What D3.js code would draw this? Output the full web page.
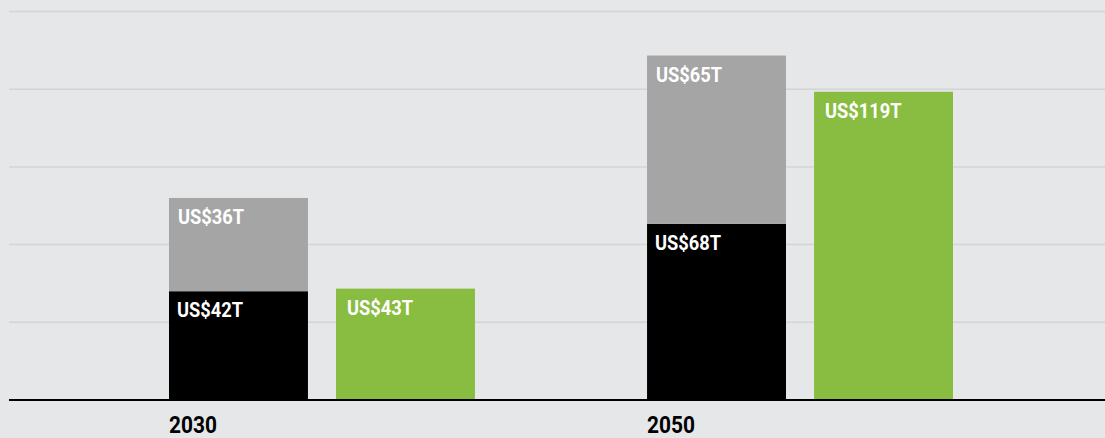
<!DOCTYPE html>
<meta charset="utf-8">
<style>
  body { margin: 0; background: #e6e7e9; }
  svg { display: block; }
  text { font-family: Roboto, sans-serif; font-weight: bold; }
</style>
<script src="https://d3js.org/d3.v7.min.js"></script>
<body>
<script>
// values in US$ trillions
var years = ["2030", "2050"];
var blackValues = [42, 68];
var grayValues = [36, 65];
var greenValues = [43, 119];
var gridTicks = [30, 60, 90, 120, 150];

var width = 1105,
    height = 438;

var svg = d3.select("body").append("svg")
    .attr("width", width)
    .attr("height", height);

svg.append("rect")
    .attr("width", width)
    .attr("height", height)
    .attr("fill", "#e6e7e9");

var y = d3.scaleLinear()
    .domain([0, 150])
    .range([400, 11.5]);

var x = d3.scaleBand()
    .domain(years)
    .range([169, 953])
    .paddingInner(0.36)
    .paddingOuter(0);

var sub = d3.scaleBand()
    .domain(["stack", "green"])
    .range([0, x.bandwidth()])
    .paddingInner(0.168);

// gridlines
svg.append("g")
    .selectAll("line")
    .data(gridTicks)
    .enter().append("line")
    .attr("x1", 9)
    .attr("x2", width)
    .attr("y1", function(d) { return y(d); })
    .attr("y2", function(d) { return y(d); })
    .attr("stroke", "#d3d4d6")
    .attr("stroke-width", 1.5);

var rows = years.map(function(yr, i) {
    return {year: yr, black: blackValues[i], gray: grayValues[i], green: greenValues[i]};
});

var label = function(sel, tx, ty, txt, color, size) {
    sel.append("text")
        .attr("transform", "translate(" + tx + "," + ty + ") scale(0.87,1)")
        .attr("fill", color)
        .attr("font-size", size)
        .text(txt);
};

var g = svg.selectAll(".year").data(rows).enter().append("g")
    .attr("class", "year")
    .attr("transform", function(d) { return "translate(" + x(d.year) + ",0)"; });

g.each(function(d) {
    var el = d3.select(this);
    var xs = sub("stack"), xg = sub("green"), w = sub.bandwidth();

    // black bottom segment
    el.append("rect")
        .attr("x", xs).attr("width", w)
        .attr("y", y(d.black)).attr("height", y(0) - y(d.black))
        .attr("fill", "#000");
    // gray top segment
    el.append("rect")
        .attr("x", xs).attr("width", w)
        .attr("y", y(d.black + d.gray)).attr("height", y(d.black) - y(d.black + d.gray))
        .attr("fill", "#a5a5a5");
    // green bar
    el.append("rect")
        .attr("x", xg).attr("width", w)
        .attr("y", y(d.green)).attr("height", y(0) - y(d.green))
        .attr("fill", "#88bd41");

    label(el, xs + 9, y(d.black + d.gray) + 26, "US$" + d.gray + "T", "#fff", 21);
    label(el, xs + 8, y(d.black) + 26, "US$" + d.black + "T", "#fff", 21);
    label(el, xg + 11, y(d.green) + 26, "US$" + d.green + "T", "#fff", 21);
    label(el, xs, 433, d.year, "#000", 24);
});

// baseline
svg.append("line")
    .attr("x1", 9).attr("x2", width)
    .attr("y1", y(0)).attr("y2", y(0))
    .attr("stroke", "#000")
    .attr("stroke-width", 2);
</script>
</body>
